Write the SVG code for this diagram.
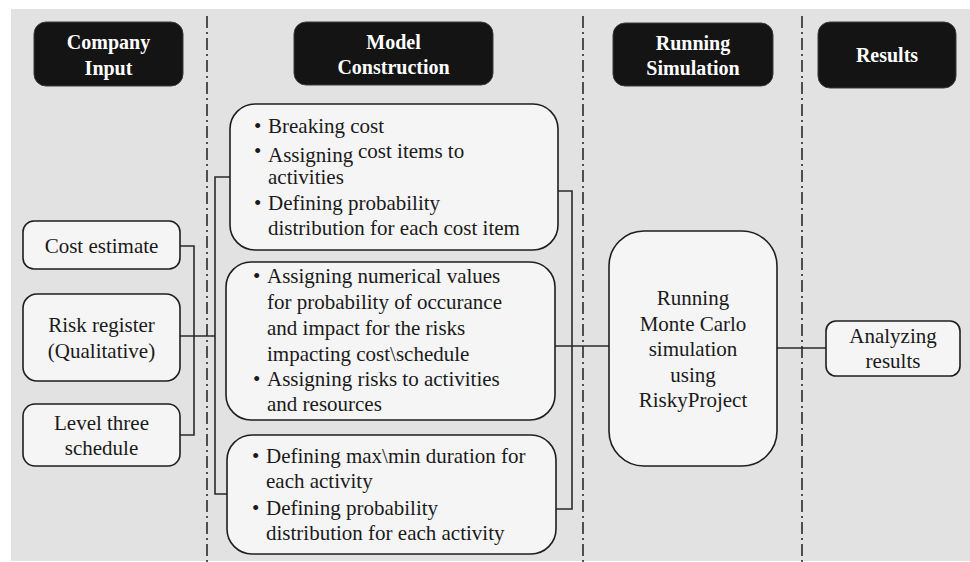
<svg xmlns="http://www.w3.org/2000/svg" width="970" height="562" viewBox="0 0 970 562" font-family="Liberation Serif, Times New Roman, serif">
<style>
.hdr{fill:#141414;stroke:#3a3a3a;stroke-width:1}
.hdt{font-weight:bold;font-size:20px;fill:#ffffff;text-anchor:middle}
.box{fill:#f5f5f5;stroke:#1e1e1e;stroke-width:1.6}
.t{font-size:21px;fill:#1a1a1a}
.c{text-anchor:middle}
.sep{stroke:#2a2a2a;stroke-width:1.6;stroke-dasharray:12 4 2 4;fill:none}
.con{stroke:#2a2a2a;stroke-width:1.6;fill:none}
</style>
<rect x="11" y="9" width="959" height="552" fill="#e2e2e2"/>
<g id="separators">
<line class="sep" x1="207" y1="16" x2="207" y2="562"/>
<line class="sep" x1="583" y1="16" x2="583" y2="562"/>
<line class="sep" x1="802" y1="16" x2="802" y2="562"/>
</g>
<g id="connectors">
<polyline class="con" points="180,246 194,246 194,435 180,435"/>
<line class="con" x1="180" y1="336" x2="215" y2="336"/>
<polyline class="con" points="230,177 215,177 215,494 227,494"/>
<polyline class="con" points="558,191 572,191 572,509 556,509"/>
<line class="con" x1="555" y1="346" x2="609" y2="346"/>
<line class="con" x1="777" y1="348" x2="826" y2="348"/>
</g>
<g id="hdr-company">
<rect class="hdr" x="34" y="22" width="149" height="64" rx="12"/>
<text class="hdt" x="108.5" y="49">Company</text>
<text class="hdt" x="108.5" y="75">Input</text>
</g>
<g id="hdr-model">
<rect class="hdr" x="294" y="22" width="199" height="63" rx="12"/>
<text class="hdt" x="393.5" y="49">Model</text>
<text class="hdt" x="393.5" y="74">Construction</text>
</g>
<g id="hdr-running">
<rect class="hdr" x="613" y="23" width="160" height="63" rx="12"/>
<text class="hdt" x="693" y="50">Running</text>
<text class="hdt" x="693" y="75">Simulation</text>
</g>
<g id="hdr-results">
<rect class="hdr" x="818" y="22" width="138" height="66" rx="12"/>
<text class="hdt" x="887" y="62">Results</text>
</g>
<g id="cost-estimate">
<rect class="box" x="23" y="221" width="157" height="48" rx="11"/>
<text class="t c" x="101.5" y="253">Cost estimate</text>
</g>
<g id="risk-register">
<rect class="box" x="23" y="294" width="157" height="87" rx="14"/>
<text class="t c" x="101.5" y="332">Risk register</text>
<text class="t c" x="101.5" y="358">(Qualitative)</text>
</g>
<g id="level-three">
<rect class="box" x="23" y="404" width="157" height="62" rx="12"/>
<text class="t c" x="101.5" y="430">Level three</text>
<text class="t c" x="101.5" y="455">schedule</text>
</g>
<g id="model-cost">
<rect class="box" x="230" y="104" width="328" height="146" rx="25"/>
<text class="t" x="254" y="133">•</text><text class="t" x="268" y="133">Breaking cost</text>
<text class="t" x="254" y="158">•</text><text class="t" x="268" y="162">Assigning</text><text class="t" x="358" y="158">cost items to</text>
<text class="t" x="268" y="184">activities</text>
<text class="t" x="254" y="210">•</text><text class="t" x="268" y="210">Defining probability</text>
<text class="t" x="268" y="235">distribution for each cost item</text>
</g>
<g id="model-risk">
<rect class="box" x="226" y="262" width="329" height="158" rx="25"/>
<text class="t" x="253" y="283">•</text><text class="t" x="267" y="283">Assigning numerical values</text>
<text class="t" x="267" y="309">for probability of occurance</text>
<text class="t" x="267" y="335">and impact for the risks</text>
<text class="t" x="267" y="361">impacting cost\schedule</text>
<text class="t" x="253" y="386">•</text><text class="t" x="267" y="386">Assigning risks to activities</text>
<text class="t" x="267" y="411">and resources</text>
</g>
<g id="model-schedule">
<rect class="box" x="227" y="435" width="329" height="119" rx="25"/>
<text class="t" x="252" y="463">•</text><text class="t" x="266" y="463">Defining max\min duration for</text>
<text class="t" x="266" y="488">each activity</text>
<text class="t" x="252" y="515">•</text><text class="t" x="266" y="515">Defining probability</text>
<text class="t" x="266" y="540">distribution for each activity</text>
</g>
<g id="running-mc">
<rect class="box" x="609" y="231" width="168" height="235" rx="35"/>
<text class="t c" x="693" y="305">Running</text>
<text class="t c" x="693" y="331">Monte Carlo</text>
<text class="t c" x="693" y="356">simulation</text>
<text class="t c" x="693" y="382">using</text>
<text class="t c" x="693" y="407">RiskyProject</text>
</g>
<g id="analyzing">
<rect class="box" x="826" y="321" width="134" height="55" rx="10"/>
<text class="t c" x="893" y="343">Analyzing</text>
<text class="t c" x="893" y="368">results</text>
</g>
</svg>
